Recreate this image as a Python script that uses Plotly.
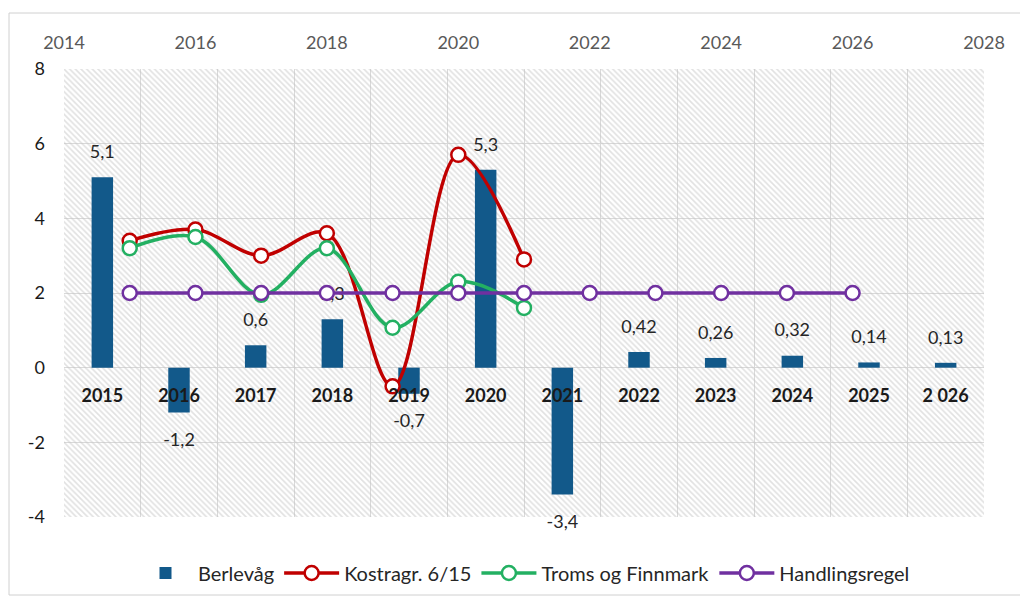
import plotly.graph_objects as go

# ---- data ----
categories = ["2015", "2016", "2017", "2018", "2019", "2020",
              "2021", "2022", "2023", "2024", "2025", "2 026"]
berlevag = [5.1, -1.2, 0.6, 1.3, -0.7, 5.3, -3.4, 0.42, 0.26, 0.32, 0.14, 0.13]

years_kostra = [2015, 2016, 2017, 2018, 2019, 2020, 2021]
kostra = [3.4, 3.7, 3.0, 3.6, -0.5, 5.7, 2.9]

years_troms = [2015, 2016, 2017, 2018, 2019, 2020, 2021]
troms = [3.2, 3.5, 1.95, 3.2, 1.07, 2.3, 1.6]

years_handling = [2015, 2016, 2017, 2018, 2019, 2020, 2021, 2022, 2023, 2024, 2025, 2026]
handling = [2, 2, 2, 2, 2, 2, 2, 2, 2, 2, 2, 2]

y_tickvals = [-4, -2, 0, 2, 4, 6, 8]
y_ticktext = ["-4", "-2", "0", "2", "4", "6", "8"]
Y_MIN, Y_MAX = -4, 8
TOP_MIN, TOP_MAX = 2014, 2028

bar_labels = [str(v).replace(".", ",") for v in berlevag]
label_pos = ["top center" if v >= 0 else "bottom center" for v in berlevag]
label_pad = [22 if v >= 0 else 30 for v in berlevag]

FONT = "Lato, 'Open Sans', sans-serif"
GRID = "#d9d9d9"

# figure geometry (page has an 8px body margin)
W, H = 1020, 588
ML, MR, MT, MB = 56, 44, 61, 79
PW, PH = W - ML - MR, H - MT - MB

fig = go.Figure()

# hatched plot-area background (decorative)
fig.add_trace(go.Bar(
    x=[0.5], y=[Y_MAX - Y_MIN], base=[Y_MIN], width=[1],
    xaxis="x", yaxis="y",
    marker=dict(color="rgba(0,0,0,0)", line=dict(width=0),
                pattern=dict(shape="\\", fgcolor="#c4c4c4",
                             bgcolor="rgba(255,255,255,0)", size=4, solidity=0.42)),
    showlegend=False, hoverinfo="skip"))

# bars
fig.add_trace(go.Bar(
    x=categories, y=berlevag, name="Berlevåg", width=0.28,
    xaxis="x2", yaxis="y",
    marker=dict(color="#12598a", line=dict(width=0))))

# bar value labels
fig.add_trace(go.Scatter(
    x=categories, y=berlevag, mode="markers+text", text=bar_labels,
    textposition=label_pos, xaxis="x2", yaxis="y",
    marker=dict(size=label_pad, color="rgba(0,0,0,0)", opacity=0,
                line=dict(width=0)),
    textfont=dict(family=FONT, size=18, color="#262626"),
    showlegend=False, hoverinfo="skip", cliponaxis=False))

def line_trace(xs, ys, name, color):
    return go.Scatter(
        x=xs, y=ys, name=name, mode="lines+markers",
        xaxis="x3", yaxis="y",
        line=dict(color=color, width=3.5, shape="spline", smoothing=1.0),
        marker=dict(symbol="circle", size=14, color="white",
                    line=dict(color=color, width=2.5)),
        cliponaxis=False)

fig.add_trace(line_trace(years_kostra, kostra, "Kostragr. 6/15", "#c00000"))
fig.add_trace(line_trace(years_troms, troms, "Troms og Finnmark", "#23b062"))
fig.add_trace(line_trace(years_handling, handling, "Handlingsregel", "#7030a0"))

fig.update_layout(
    width=W, height=H,
    margin=dict(l=ML, r=MR, t=MT, b=MB, autoexpand=False),
    paper_bgcolor="white", plot_bgcolor="white",
    font=dict(family=FONT, color="#262626"),
    xaxis=dict(visible=False, range=[0, 1], fixedrange=True),
    xaxis2=dict(overlaying="x", type="category", anchor="free",
                position=(0 - Y_MIN) / (Y_MAX - Y_MIN),
                range=[-0.5, len(categories) - 0.5],
                tickson="boundaries", showgrid=True, gridcolor=GRID, gridwidth=1,
                ticks="", showline=False, ticklabelstandoff=15,
                tickfont=dict(family=FONT, size=18, color="#1a1a1a", weight="bold")),
    xaxis3=dict(overlaying="x", side="top", anchor="y",
                range=[TOP_MIN, TOP_MAX], tick0=TOP_MIN, dtick=2,
                showgrid=False, showline=False, ticks="", zeroline=False,
                ticklabelstandoff=15,
                tickfont=dict(family=FONT, size=18, color="#595959")),
    yaxis=dict(range=[Y_MIN, Y_MAX], tickvals=y_tickvals, ticktext=y_ticktext,
               showgrid=True, gridcolor=GRID, gridwidth=1,
               zeroline=True, zerolinecolor=GRID, zerolinewidth=1,
               showline=False, ticks="", ticklabelstandoff=18,
               tickfont=dict(family=FONT, size=18, color="#1a1a1a")),
    legend=dict(orientation="h", x=0.5, xanchor="center", y=-56 / PH, yanchor="middle",
                font=dict(family=FONT, size=20, color="#262626"),
                itemwidth=55, traceorder="normal"),
    shapes=[dict(type="rect", xref="paper", yref="paper",
                 x0=(1 - ML) / PW, x1=(1019 - ML) / PW,
                 y0=-(587 - (MT + PH)) / PH, y1=(MT + PH - 5) / PH,
                 line=dict(color="#d0d0d0", width=1), fillcolor="rgba(0,0,0,0)",
                 layer="below")],
    showlegend=True,
)

fig.write_html("out.html")
